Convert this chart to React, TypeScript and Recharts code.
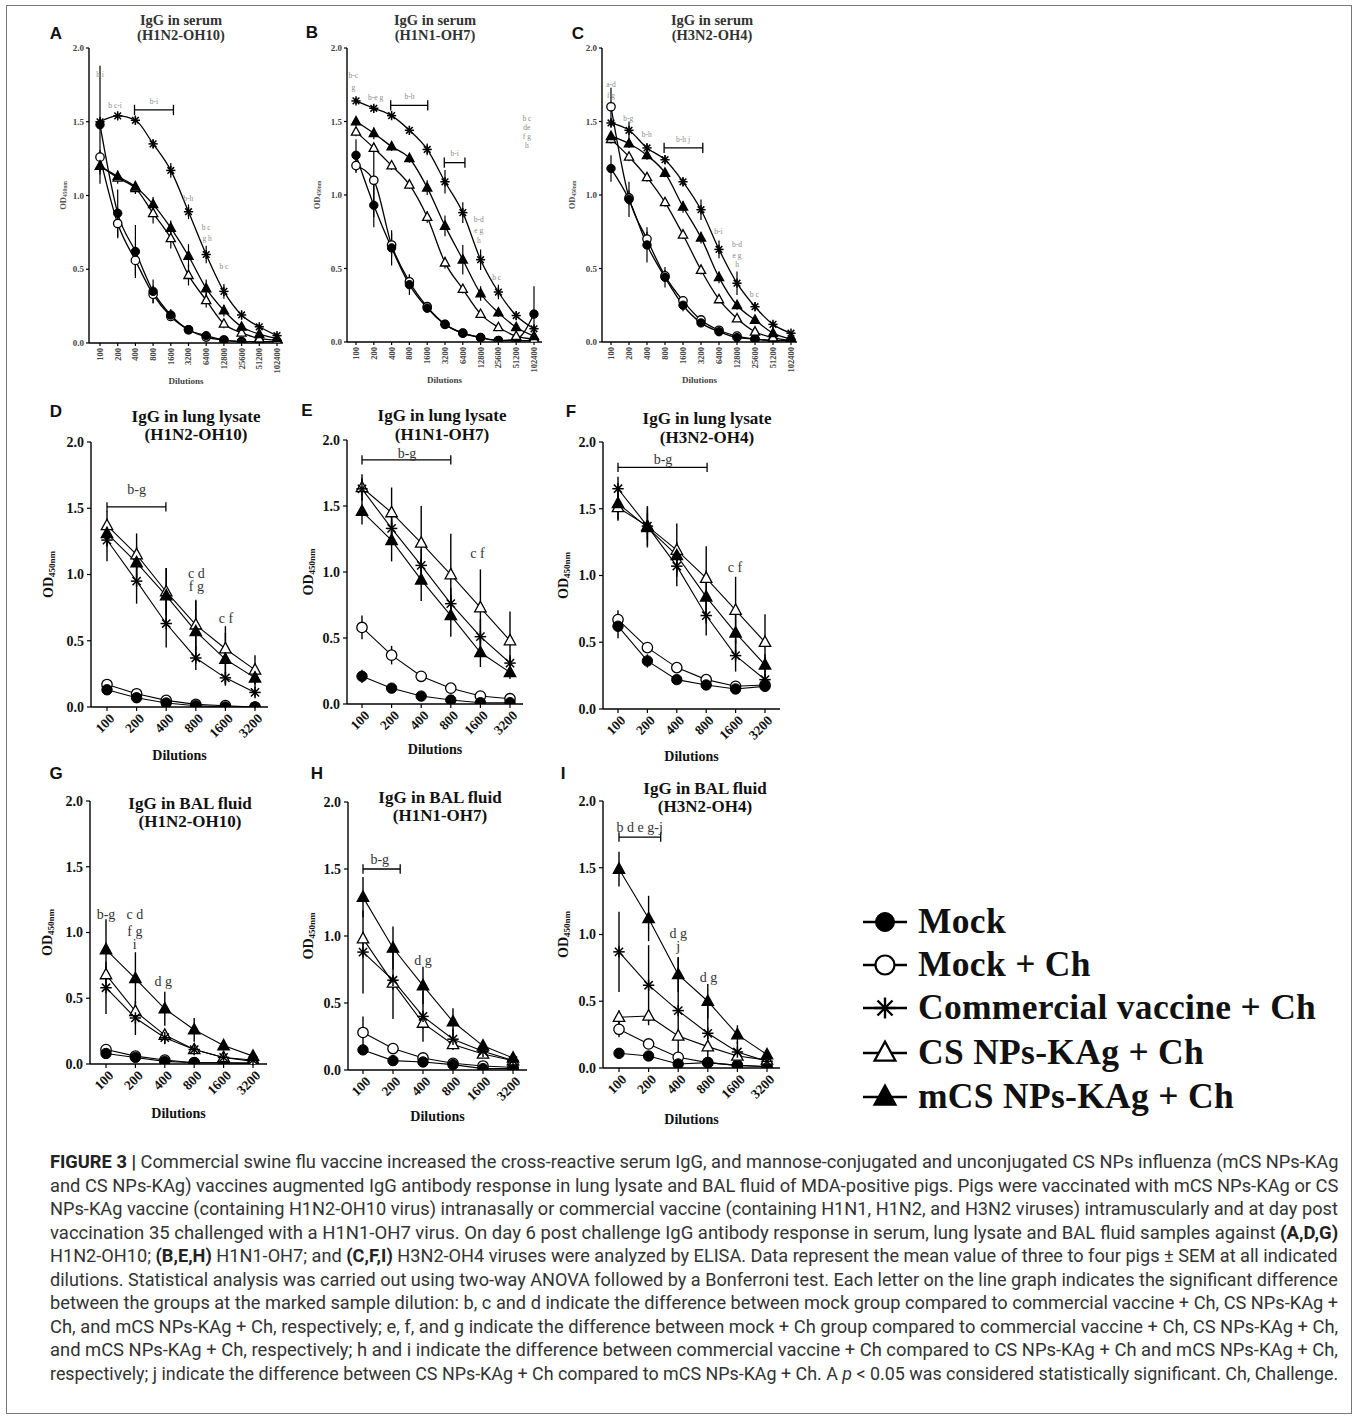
import React from 'react';
import { LineChart, Line, XAxis, YAxis, ErrorBar, ReferenceLine, ReferenceDot } from 'recharts';

const SERIF = '"Liberation Serif","Times New Roman","DejaVu Serif",serif';
const SANS = '"Liberation Sans",Arial,Helvetica,sans-serif';
const CAPFONT = 'Roboto,"Liberation Sans",Arial,sans-serif';

// ---------- categories ----------
const serumDilutions = ['100', '200', '400', '800', '1600', '3200', '6400', '12800', '25600', '51200', '102400'];
const tissueDilutions = ['100', '200', '400', '800', '1600', '3200'];
const groupNames = ['Mock', 'Mock + Ch', 'Commercial vaccine + Ch', 'CS NPs-KAg + Ch', 'mCS NPs-KAg + Ch'];
const yTicks = [0, 0.5, 1, 1.5, 2];

// ---------- A: IgG in serum (H1N2-OH10) ----------
const A_mock = [1.48, 0.88, 0.62, 0.35, 0.19, 0.09, 0.05, 0.02, 0.01, 0.01, 0.01];
const A_mockErr = [0.40, 0.16, 0.18, 0.08, 0.04, 0.02, 0.01, 0.01, 0.01, 0.01, 0.01];
const A_mockCh = [1.26, 0.81, 0.56, 0.33, 0.18, 0.09, 0.04, 0.02, 0.01, 0.01, 0.01];
const A_mockChErr = [0.05, 0.10, 0.10, 0.06, 0.03, 0.02, 0.01, 0.01, 0.01, 0.01, 0.01];
const A_comm = [1.50, 1.54, 1.51, 1.35, 1.17, 0.89, 0.60, 0.35, 0.19, 0.11, 0.05];
const A_commErr = [0.03, 0.02, 0.03, 0.03, 0.05, 0.05, 0.06, 0.05, 0.03, 0.02, 0.01];
const A_cs = [1.20, 1.12, 1.05, 0.88, 0.71, 0.46, 0.29, 0.13, 0.07, 0.03, 0.02];
const A_csErr = [0.04, 0.04, 0.04, 0.07, 0.07, 0.07, 0.05, 0.03, 0.02, 0.01, 0.01];
const A_mcs = [1.20, 1.13, 1.06, 0.94, 0.78, 0.59, 0.37, 0.22, 0.11, 0.06, 0.03];
const A_mcsErr = [0.06, 0.04, 0.04, 0.05, 0.05, 0.08, 0.06, 0.04, 0.02, 0.01, 0.01];
const A_notes = [
  { x: 0, y: 1.82, t: 'h i' }, { x: 0.85, y: 1.61, t: 'b c-i' }, { x: 3.05, y: 1.64, t: 'b-i' },
  { x: 4.98, y: 0.98, t: 'b-h' }, { x: 6.0, y: 0.78, t: 'b c' }, { x: 6.05, y: 0.71, t: 'g h' }, { x: 7.0, y: 0.52, t: 'b c' },
];
const A_brackets = [{ x1: 1.95, x2: 4.15, y: 1.58 }];

// ---------- B: IgG in serum (H1N1-OH7) ----------
const B_mock = [1.27, 0.93, 0.64, 0.39, 0.23, 0.12, 0.06, 0.03, 0.01, 0.02, 0.19];
const B_mockErr = [0.11, 0.15, 0.12, 0.07, 0.03, 0.02, 0.01, 0.01, 0.01, 0.01, 0.19];
const B_mockCh = [1.20, 1.10, 0.66, 0.41, 0.24, 0.12, 0.06, 0.03, 0.01, 0.01, 0.01];
const B_mockChErr = [0.05, 0.25, 0.08, 0.05, 0.03, 0.02, 0.01, 0.01, 0.01, 0.01, 0.01];
const B_comm = [1.64, 1.59, 1.54, 1.44, 1.31, 1.09, 0.88, 0.56, 0.34, 0.18, 0.09];
const B_commErr = [0.02, 0.02, 0.02, 0.03, 0.04, 0.08, 0.07, 0.07, 0.05, 0.03, 0.02];
const B_cs = [1.43, 1.32, 1.20, 1.07, 0.85, 0.54, 0.36, 0.19, 0.10, 0.04, 0.02];
const B_csErr = [0.03, 0.03, 0.03, 0.03, 0.04, 0.04, 0.03, 0.02, 0.02, 0.01, 0.01];
const B_mcs = [1.50, 1.42, 1.33, 1.25, 1.05, 0.79, 0.56, 0.33, 0.20, 0.10, 0.04];
const B_mcsErr = [0.03, 0.04, 0.03, 0.03, 0.05, 0.07, 0.10, 0.05, 0.03, 0.02, 0.01];
const B_notes = [
  { x: -0.15, y: 1.81, t: 'b-c' }, { x: -0.15, y: 1.73, t: 'g' }, { x: 1.1, y: 1.66, t: 'b-e g' },
  { x: 3.0, y: 1.67, t: 'b-h' }, { x: 5.55, y: 1.28, t: 'b-i' },
  { x: 6.9, y: 0.83, t: 'b-d' }, { x: 6.9, y: 0.76, t: 'e g' }, { x: 6.9, y: 0.69, t: 'h' }, { x: 7.9, y: 0.44, t: 'b c' },
  { x: 9.6, y: 1.52, t: 'b c' }, { x: 9.6, y: 1.46, t: 'de' }, { x: 9.6, y: 1.40, t: 'f g' }, { x: 9.6, y: 1.34, t: 'h' },
];
const B_brackets = [{ x1: 1.95, x2: 4.03, y: 1.61 }, { x1: 4.96, x2: 6.12, y: 1.22 }];

// ---------- C: IgG in serum (H3N2-OH4) ----------
const C_mock = [1.18, 0.97, 0.66, 0.44, 0.25, 0.13, 0.07, 0.03, 0.02, 0.01, 0.01];
const C_mockErr = [0.09, 0.12, 0.12, 0.07, 0.04, 0.02, 0.01, 0.01, 0.01, 0.01, 0.01];
const C_mockCh = [1.60, 0.98, 0.70, 0.45, 0.28, 0.15, 0.08, 0.04, 0.02, 0.01, 0.01];
const C_mockChErr = [0.13, 0.05, 0.05, 0.04, 0.03, 0.02, 0.01, 0.01, 0.01, 0.01, 0.01];
const C_comm = [1.49, 1.44, 1.32, 1.24, 1.09, 0.90, 0.63, 0.40, 0.24, 0.12, 0.06];
const C_commErr = [0.03, 0.06, 0.03, 0.03, 0.03, 0.07, 0.06, 0.08, 0.03, 0.02, 0.01];
const C_cs = [1.38, 1.26, 1.12, 0.95, 0.73, 0.49, 0.29, 0.16, 0.07, 0.03, 0.01];
const C_csErr = [0.03, 0.03, 0.03, 0.03, 0.03, 0.03, 0.02, 0.02, 0.01, 0.01, 0.01];
const C_mcs = [1.40, 1.35, 1.27, 1.15, 0.92, 0.71, 0.44, 0.25, 0.15, 0.06, 0.02];
const C_mcsErr = [0.03, 0.03, 0.03, 0.03, 0.04, 0.04, 0.04, 0.03, 0.02, 0.01, 0.01];
const C_notes = [
  { x: 0, y: 1.75, t: 'a-d' }, { x: 0, y: 1.68, t: 'f g' }, { x: 0.96, y: 1.52, t: 'b-g' }, { x: 1.99, y: 1.41, t: 'b-h' },
  { x: 4.0, y: 1.38, t: 'b-h j' }, { x: 5.97, y: 0.75, t: 'b-i' },
  { x: 7.0, y: 0.66, t: 'b-d' }, { x: 7.0, y: 0.59, t: 'e g' }, { x: 7.0, y: 0.53, t: 'h' }, { x: 7.96, y: 0.32, t: 'b c' },
];
const C_brackets = [{ x1: 2.95, x2: 5.1, y: 1.32 }];

// ---------- D: IgG in lung lysate (H1N2-OH10) ----------
const D_mock = [0.13, 0.07, 0.03, 0.01, 0.00, 0.00];
const D_mockErr = [0.02, 0.02, 0.01, 0.01, 0.01, 0.01];
const D_mockCh = [0.17, 0.10, 0.05, 0.02, 0.01, 0.00];
const D_mockChErr = [0.03, 0.02, 0.02, 0.01, 0.01, 0.01];
const D_comm = [1.26, 0.95, 0.63, 0.37, 0.22, 0.11];
const D_commErr = [0.16, 0.17, 0.18, 0.09, 0.05, 0.03];
const D_cs = [1.37, 1.15, 0.87, 0.62, 0.44, 0.28];
const D_csErr = [0.11, 0.16, 0.18, 0.19, 0.17, 0.11];
const D_mcs = [1.31, 1.09, 0.84, 0.57, 0.36, 0.22];
const D_mcsErr = [0.10, 0.12, 0.21, 0.23, 0.20, 0.08];
const D_notes = [
  { x: 1.0, y: 1.64, t: 'b-g' }, { x: 3.02, y: 1.01, t: 'c d' }, { x: 3.02, y: 0.91, t: 'f g' }, { x: 4.02, y: 0.67, t: 'c f' },
];
const D_brackets = [{ x1: 0, x2: 1.99, y: 1.51 }];

// ---------- E: IgG in lung lysate (H1N1-OH7) ----------
const E_mock = [0.21, 0.12, 0.06, 0.03, 0.01, 0.01];
const E_mockErr = [0.05, 0.02, 0.01, 0.01, 0.01, 0.01];
const E_mockCh = [0.58, 0.37, 0.21, 0.12, 0.06, 0.04];
const E_mockChErr = [0.09, 0.07, 0.02, 0.02, 0.01, 0.01];
const E_comm = [1.63, 1.33, 1.05, 0.76, 0.51, 0.31];
const E_commErr = [0.08, 0.10, 0.12, 0.12, 0.13, 0.06];
const E_cs = [1.64, 1.45, 1.22, 0.98, 0.73, 0.48];
const E_csErr = [0.10, 0.19, 0.28, 0.31, 0.29, 0.22];
const E_mcs = [1.46, 1.24, 0.94, 0.67, 0.39, 0.24];
const E_mcsErr = [0.10, 0.16, 0.16, 0.16, 0.11, 0.05];
const E_notes = [{ x: 1.52, y: 1.90, t: 'b-g' }, { x: 3.9, y: 1.14, t: 'c f' }];
const E_brackets = [{ x1: 0, x2: 3.0, y: 1.85 }];

// ---------- F: IgG in lung lysate (H3N2-OH4) ----------
const F_mock = [0.62, 0.36, 0.22, 0.18, 0.15, 0.17];
const F_mockErr = [0.09, 0.05, 0.03, 0.02, 0.02, 0.02];
const F_mockCh = [0.67, 0.46, 0.31, 0.22, 0.17, 0.18];
const F_mockChErr = [0.07, 0.03, 0.03, 0.02, 0.02, 0.02];
const F_comm = [1.65, 1.37, 1.07, 0.70, 0.40, 0.22];
const F_commErr = [0.09, 0.15, 0.15, 0.15, 0.12, 0.07];
const F_cs = [1.51, 1.37, 1.19, 0.98, 0.74, 0.50];
const F_csErr = [0.10, 0.10, 0.20, 0.24, 0.25, 0.21];
const F_mcs = [1.54, 1.36, 1.15, 0.84, 0.57, 0.33];
const F_mcsErr = [0.12, 0.15, 0.10, 0.20, 0.20, 0.08];
const F_notes = [{ x: 1.53, y: 1.87, t: 'b-g' }, { x: 3.98, y: 1.06, t: 'c f' }];
const F_brackets = [{ x1: 0, x2: 3.03, y: 1.81 }];

// ---------- G: IgG in BAL fluid (H1N2-OH10) ----------
const G_mock = [0.08, 0.05, 0.02, 0.01, 0.01, 0.01];
const G_mockErr = [0.02, 0.01, 0.01, 0.01, 0.01, 0.01];
const G_mockCh = [0.11, 0.06, 0.03, 0.01, 0.01, 0.00];
const G_mockChErr = [0.02, 0.01, 0.01, 0.01, 0.01, 0.01];
const G_comm = [0.58, 0.35, 0.20, 0.11, 0.05, 0.03];
const G_commErr = [0.20, 0.13, 0.05, 0.03, 0.02, 0.01];
const G_cs = [0.68, 0.40, 0.22, 0.11, 0.05, 0.02];
const G_csErr = [0.06, 0.05, 0.04, 0.03, 0.02, 0.01];
const G_mcs = [0.87, 0.65, 0.42, 0.26, 0.14, 0.06];
const G_mcsErr = [0.23, 0.20, 0.13, 0.09, 0.03, 0.02];
const G_notes = [
  { x: 0, y: 1.14, t: 'b-g' }, { x: 0.98, y: 1.14, t: 'c d' }, { x: 0.98, y: 1.01, t: 'f g' }, { x: 0.98, y: 0.91, t: 'i' },
  { x: 1.95, y: 0.63, t: 'd g' },
];
const G_brackets: { x1: number; x2: number; y: number }[] = [];

// ---------- H: IgG in BAL fluid (H1N1-OH7) ----------
const H_mock = [0.15, 0.07, 0.06, 0.04, 0.01, 0.01];
const H_mockErr = [0.03, 0.02, 0.01, 0.01, 0.01, 0.01];
const H_mockCh = [0.28, 0.16, 0.09, 0.05, 0.03, 0.02];
const H_mockChErr = [0.12, 0.04, 0.02, 0.01, 0.01, 0.01];
const H_comm = [0.88, 0.67, 0.40, 0.23, 0.14, 0.07];
const H_commErr = [0.31, 0.29, 0.19, 0.08, 0.04, 0.02];
const H_cs = [0.98, 0.65, 0.35, 0.19, 0.12, 0.07];
const H_csErr = [0.05, 0.05, 0.04, 0.03, 0.02, 0.01];
const H_mcs = [1.29, 0.91, 0.63, 0.36, 0.18, 0.09];
const H_mcsErr = [0.15, 0.16, 0.14, 0.10, 0.04, 0.02];
const H_notes = [{ x: 0.56, y: 1.57, t: 'b-g' }, { x: 2.0, y: 0.82, t: 'd g' }];
const H_brackets = [{ x1: 0, x2: 1.24, y: 1.50 }];

// ---------- I: IgG in BAL fluid (H3N2-OH4) ----------
const I_mock = [0.11, 0.09, 0.03, 0.04, 0.02, 0.01];
const I_mockErr = [0.02, 0.02, 0.01, 0.01, 0.01, 0.01];
const I_mockCh = [0.29, 0.18, 0.08, 0.04, 0.02, 0.01];
const I_mockChErr = [0.06, 0.03, 0.02, 0.01, 0.01, 0.01];
const I_comm = [0.87, 0.62, 0.43, 0.26, 0.12, 0.05];
const I_commErr = [0.30, 0.30, 0.40, 0.20, 0.08, 0.02];
const I_cs = [0.38, 0.39, 0.24, 0.16, 0.09, 0.06];
const I_csErr = [0.05, 0.04, 0.03, 0.02, 0.02, 0.01];
const I_mcs = [1.49, 1.12, 0.70, 0.50, 0.25, 0.10];
const I_mcsErr = [0.13, 0.17, 0.13, 0.13, 0.07, 0.02];
const I_notes = [
  { x: 0.7, y: 1.80, t: 'b d e g-j' }, { x: 2.0, y: 1.01, t: 'd g' }, { x: 2.0, y: 0.91, t: 'j' }, { x: 3.02, y: 0.68, t: 'd g' },
];
const I_brackets = [{ x1: 0, x2: 1.41, y: 1.73 }];

// ---------- caption ----------
type Seg = [string, 'n' | 'b' | 'i'];
const captionLines: Seg[][] = [
  [['FIGURE 3 | ', 'b'], ['Commercial swine flu vaccine increased the cross-reactive serum IgG, and mannose-conjugated and unconjugated CS NPs influenza (mCS NPs-KAg', 'n']],
  [['and CS NPs-KAg) vaccines augmented IgG antibody response in lung lysate and BAL fluid of MDA-positive pigs. Pigs were vaccinated with mCS NPs-KAg or CS', 'n']],
  [['NPs-KAg vaccine (containing H1N2-OH10 virus) intranasally or commercial vaccine (containing H1N1, H1N2, and H3N2 viruses) intramuscularly and at day post', 'n']],
  [['vaccination 35 challenged with a H1N1-OH7 virus. On day 6 post challenge IgG antibody response in serum, lung lysate and BAL fluid samples against ', 'n'], ['(A,D,G)', 'b']],
  [['H1N2-OH10; ', 'n'], ['(B,E,H)', 'b'], [' H1N1-OH7; and ', 'n'], ['(C,F,I)', 'b'], [' H3N2-OH4 viruses were analyzed by ELISA. Data represent the mean value of three to four pigs \u00b1 SEM at all indicated', 'n']],
  [['dilutions. Statistical analysis was carried out using two-way ANOVA followed by a Bonferroni test. Each letter on the line graph indicates the significant difference', 'n']],
  [['between the groups at the marked sample dilution: b, c and d indicate the difference between mock group compared to commercial vaccine + Ch, CS NPs-KAg +', 'n']],
  [['Ch, and mCS NPs-KAg + Ch, respectively; e, f, and g indicate the difference between mock + Ch group compared to commercial vaccine + Ch, CS NPs-KAg + Ch,', 'n']],
  [['and mCS NPs-KAg + Ch, respectively; h and i indicate the difference between commercial vaccine + Ch compared to CS NPs-KAg + Ch and mCS NPs-KAg + Ch,', 'n']],
  [['respectively; j indicate the difference between CS NPs-KAg + Ch compared to mCS NPs-KAg + Ch. A ', 'n'], ['p', 'i'], [' < 0.05 was considered statistically significant. Ch, Challenge.', 'n']],
];

// ---------- markers ----------
type Kind = 'filledCircle' | 'openCircle' | 'star' | 'openTri' | 'filledTri';
const groupKinds: Kind[] = ['filledCircle', 'openCircle', 'star', 'openTri', 'filledTri'];

function marker(kind: Kind, cx: number, cy: number, r: number, key: string, sw = 1.3) {
  if (cx == null || cy == null || isNaN(cx) || isNaN(cy)) return <g key={key} />;
  switch (kind) {
    case 'filledCircle':
      return <circle key={key} cx={cx} cy={cy} r={r} fill="#000" stroke="#000" strokeWidth={1} />;
    case 'openCircle':
      return <circle key={key} cx={cx} cy={cy} r={r} fill="#fff" stroke="#000" strokeWidth={sw} />;
    case 'openTri':
    case 'filledTri': {
      const pts = `${cx},${cy - r * 1.2} ${cx - r * 1.1},${cy + r * 0.8} ${cx + r * 1.1},${cy + r * 0.8}`;
      return <polygon key={key} points={pts} fill={kind === 'openTri' ? '#fff' : '#000'} stroke="#000" strokeWidth={sw} strokeLinejoin="miter" />;
    }
    case 'star': {
      const s = r * 1.1;
      const d = s * 0.72;
      return (
        <g key={key} stroke="#000" strokeWidth={sw + 0.2}>
          <line x1={cx} y1={cy - s} x2={cx} y2={cy + s} />
          <line x1={cx - s} y1={cy} x2={cx + s} y2={cy} />
          <line x1={cx - d} y1={cy - d} x2={cx + d} y2={cy + d} />
          <line x1={cx - d} y1={cy + d} x2={cx + d} y2={cy - d} />
        </g>
      );
    }
  }
  return <g key={key} />;
}

// ---------- panel definitions ----------
type Note = { x: number; y: number; t: string };
type Bracket = { x1: number; x2: number; y: number };
type PanelDef = {
  letter: string;
  title: [string, string];
  labels: string[];
  vals: number[][];
  errs: number[][];
  notes: Note[];
  brackets: Bracket[];
  box: { x0: number; x1: number; yTop: number; yBot: number; c0: number; cN: number };
  letterXY: [number, number];
  titleX: number;
  titleY: [number, number];
  yLabelOff: number;
  xLabelOff: number;
  small: boolean;
};

const panels: PanelDef[] = [
  {
    letter: 'A', title: ['IgG in serum', '(H1N2-OH10)'], labels: serumDilutions,
    vals: [A_mock, A_mockCh, A_comm, A_cs, A_mcs], errs: [A_mockErr, A_mockChErr, A_commErr, A_csErr, A_mcsErr],
    notes: A_notes, brackets: A_brackets,
    box: { x0: 89, x1: 283, yTop: 48, yBot: 343, c0: 100, cN: 277 },
    letterXY: [56, 33], titleX: 181, titleY: [20, 35], yLabelOff: 26, xLabelOff: 38, small: true,
  },
  {
    letter: 'B', title: ['IgG in serum', '(H1N1-OH7)'], labels: serumDilutions,
    vals: [B_mock, B_mockCh, B_comm, B_cs, B_mcs], errs: [B_mockErr, B_mockChErr, B_commErr, B_csErr, B_mcsErr],
    notes: B_notes, brackets: B_brackets,
    box: { x0: 347, x1: 542, yTop: 48, yBot: 342, c0: 356, cN: 534 },
    letterXY: [312, 32], titleX: 435, titleY: [20, 35], yLabelOff: 30, xLabelOff: 38, small: true,
  },
  {
    letter: 'C', title: ['IgG in serum', '(H3N2-OH4)'], labels: serumDilutions,
    vals: [C_mock, C_mockCh, C_comm, C_cs, C_mcs], errs: [C_mockErr, C_mockChErr, C_commErr, C_csErr, C_mcsErr],
    notes: C_notes, brackets: C_brackets,
    box: { x0: 602, x1: 797, yTop: 48, yBot: 342, c0: 611, cN: 791 },
    letterXY: [578, 33], titleX: 712, titleY: [20, 35], yLabelOff: 30, xLabelOff: 38, small: true,
  },
  {
    letter: 'D', title: ['IgG in lung lysate', '(H1N2-OH10)'], labels: tissueDilutions,
    vals: [D_mock, D_mockCh, D_comm, D_cs, D_mcs], errs: [D_mockErr, D_mockChErr, D_commErr, D_csErr, D_mcsErr],
    notes: D_notes, brackets: D_brackets,
    box: { x0: 91, x1: 268, yTop: 442, yBot: 707, c0: 107, cN: 255 },
    letterXY: [56, 411], titleX: 196, titleY: [416, 434], yLabelOff: 43, xLabelOff: 48, small: false,
  },
  {
    letter: 'E', title: ['IgG in lung lysate', '(H1N1-OH7)'], labels: tissueDilutions,
    vals: [E_mock, E_mockCh, E_comm, E_cs, E_mcs], errs: [E_mockErr, E_mockChErr, E_commErr, E_csErr, E_mcsErr],
    notes: E_notes, brackets: E_brackets,
    box: { x0: 347, x1: 523, yTop: 440, yBot: 704, c0: 362, cN: 510 },
    letterXY: [307, 410], titleX: 442, titleY: [415, 434], yLabelOff: 39, xLabelOff: 45, small: false,
  },
  {
    letter: 'F', title: ['IgG in lung lysate', '(H3N2-OH4)'], labels: tissueDilutions,
    vals: [F_mock, F_mockCh, F_comm, F_cs, F_mcs], errs: [F_mockErr, F_mockChErr, F_commErr, F_csErr, F_mcsErr],
    notes: F_notes, brackets: F_brackets,
    box: { x0: 603, x1: 780, yTop: 442, yBot: 709, c0: 618, cN: 765 },
    letterXY: [571, 411], titleX: 707, titleY: [418, 437], yLabelOff: 40, xLabelOff: 47, small: false,
  },
  {
    letter: 'G', title: ['IgG in BAL fluid', '(H1N2-OH10)'], labels: tissueDilutions,
    vals: [G_mock, G_mockCh, G_comm, G_cs, G_mcs], errs: [G_mockErr, G_mockChErr, G_commErr, G_csErr, G_mcsErr],
    notes: G_notes, brackets: G_brackets,
    box: { x0: 90, x1: 267, yTop: 801, yBot: 1064, c0: 106, cN: 253 },
    letterXY: [56, 773], titleX: 190, titleY: [803, 821], yLabelOff: 43, xLabelOff: 49, small: false,
  },
  {
    letter: 'H', title: ['IgG in BAL fluid', '(H1N1-OH7)'], labels: tissueDilutions,
    vals: [H_mock, H_mockCh, H_comm, H_cs, H_mcs], errs: [H_mockErr, H_mockChErr, H_commErr, H_csErr, H_mcsErr],
    notes: H_notes, brackets: H_brackets,
    box: { x0: 348, x1: 527, yTop: 802, yBot: 1070, c0: 363, cN: 513 },
    letterXY: [317, 773], titleX: 440, titleY: [797, 815], yLabelOff: 40, xLabelOff: 46, small: false,
  },
  {
    letter: 'I', title: ['IgG in BAL fluid', '(H3N2-OH4)'], labels: tissueDilutions,
    vals: [I_mock, I_mockCh, I_comm, I_cs, I_mcs], errs: [I_mockErr, I_mockChErr, I_commErr, I_csErr, I_mcsErr],
    notes: I_notes, brackets: I_brackets,
    box: { x0: 603, x1: 780, yTop: 801, yBot: 1068, c0: 619, cN: 767 },
    letterXY: [563, 773], titleX: 705, titleY: [788, 806], yLabelOff: 40, xLabelOff: 51, small: false,
  },
];

const seriesKeys = ['mock', 'mockCh', 'comm', 'cs', 'mcs'];
const drawOrder = [1, 0, 3, 2, 4];

function Panel({ p }: { p: PanelDef }) {
  const n = p.labels.length - 1;
  const { x0, x1, yTop, yBot, c0, cN } = p.box;
  const k = (cN - c0) / n;
  const dMin = -(c0 - x0) / k;
  const dMax = n + (x1 - cN) / k;
  const plotW = x1 - x0;
  const plotH = yBot - yTop;
  const ML = 62, MT = 14, MR = 14, MB = 72;
  const yAxisW = 50, xAxisH = 62;
  const sm = p.small;
  const data = p.labels.map((lab, i) => {
    const row: any = { i, lab };
    seriesKeys.forEach((key, s) => {
      row[key] = p.vals[s][i];
      row[key + 'Err'] = p.errs[s][i];
    });
    return row;
  });
  const tickIdx = p.labels.map((_, i) => i);
  const r = sm ? 4.2 : 5.2;
  const lineW = sm ? 1.3 : 1.1;
  const noteFont = sm ? 7.5 : 14;
  const noteFill = sm ? '#8a8a8a' : '#333';
  const axisFont = sm ? 9 : 14;
  const axisFill = sm ? '#444' : '#111';

  const xTick = (props: any) => {
    const { x, y, payload } = props;
    const lab = p.labels[payload.value] ?? '';
    if (sm) {
      return (
        <text x={x} y={y} transform={`rotate(-90 ${x} ${y})`} textAnchor="end" dy="0.35em"
          fontFamily={SERIF} fontWeight={700} fontSize={8.5} fill={axisFill}>{lab}</text>
      );
    }
    const ax = x + 5, ay = y + 3;
    return (
      <text x={ax} y={ay} transform={`rotate(-45 ${ax} ${ay})`} textAnchor="end" dy="0.35em"
        fontFamily={SERIF} fontWeight={700} fontSize={13.5} fill={axisFill}>{lab}</text>
    );
  };

  const yLabel = () => (
    <text transform={`translate(${ML - p.yLabelOff}, ${MT + plotH / 2}) rotate(-90)`} textAnchor="middle"
      dominantBaseline="central" fontFamily={SERIF} fontWeight={700} fontSize={sm ? 8.5 : 14} fill={sm ? '#555' : '#111'}>
      OD<tspan fontSize={sm ? 5.5 : 9} dy={sm ? 2 : 4}>450nm</tspan>
    </text>
  );
  const xLabel = () => (
    <text x={ML + plotW / 2} y={MT + plotH + p.xLabelOff} textAnchor="middle" dominantBaseline="central"
      fontFamily={SERIF} fontWeight={700} fontSize={sm ? 9 : 14} fill={sm ? '#444' : '#111'}>Dilutions</text>
  );

  return (
    <>
      <div style={{ position: 'absolute', left: x0 - ML, top: yTop - MT }}>
        <LineChart width={ML + plotW + MR} height={MT + plotH + MB} data={data}
          margin={{ left: ML - yAxisW, top: MT, right: MR, bottom: MB - xAxisH }}>
          <XAxis type="number" dataKey="i" domain={[dMin, dMax]} ticks={tickIdx} interval={0} allowDataOverflow
            height={xAxisH} tick={xTick} tickSize={sm ? 3 : 4} tickMargin={2}
            axisLine={{ stroke: '#000', strokeWidth: 1.4 }} tickLine={{ stroke: '#000', strokeWidth: 1.2 }}
            label={xLabel} />
          <YAxis type="number" domain={[0, 2]} ticks={yTicks} interval={0} allowDataOverflow width={yAxisW}
            tickFormatter={(v: number) => v.toFixed(1)} tickSize={sm ? 3 : 4} tickMargin={sm ? 2 : 3}
            tick={{ fontFamily: SERIF, fontWeight: 700, fontSize: axisFont, fill: axisFill }}
            axisLine={{ stroke: '#000', strokeWidth: 1.4 }} tickLine={{ stroke: '#000', strokeWidth: 1.2 }}
            label={yLabel} />
          {drawOrder.map((s) => {
            const key = seriesKeys[s];
            const kind = groupKinds[s];
            return (
              <Line key={key} dataKey={key} name={groupNames[s]} type={sm ? 'monotone' : 'linear'}
                stroke="#000" strokeWidth={lineW} isAnimationActive={false}
                dot={(dp: any) => marker(kind, dp.cx, dp.cy, r, `${key}-${dp.index}`)}
                activeDot={false}>
                <ErrorBar dataKey={key + 'Err'} width={0} stroke="#000" strokeWidth={sm ? 1.2 : 1.4} direction="y" />
              </Line>
            );
          })}
          {p.brackets.map((b, j) => (
            <ReferenceLine key={'bh' + j} segment={[{ x: b.x1, y: b.y }, { x: b.x2, y: b.y }]} stroke="#000" strokeWidth={1.3} ifOverflow="visible" />
          ))}
          {p.brackets.map((b, j) => (
            <ReferenceLine key={'bl' + j} segment={[{ x: b.x1, y: b.y - 0.035 }, { x: b.x1, y: b.y + 0.035 }]} stroke="#000" strokeWidth={1.3} ifOverflow="visible" />
          ))}
          {p.brackets.map((b, j) => (
            <ReferenceLine key={'br' + j} segment={[{ x: b.x2, y: b.y - 0.035 }, { x: b.x2, y: b.y + 0.035 }]} stroke="#000" strokeWidth={1.3} ifOverflow="visible" />
          ))}
          {p.notes.map((nt, j) => (
            <ReferenceDot key={'n' + j} x={nt.x} y={nt.y} r={1} fill="none" stroke="none" ifOverflow="visible"
              shape={(sp: any) => (
                <text x={sp.cx} y={sp.cy} textAnchor="middle" dominantBaseline="central" fontFamily={SERIF}
                  fontSize={noteFont} fill={noteFill}>{nt.t}</text>
              )} />
          ))}
        </LineChart>
      </div>
      <div style={{ position: 'absolute', left: p.letterXY[0], top: p.letterXY[1], transform: 'translate(-50%,-50%)', fontFamily: SANS, fontWeight: 700, fontSize: 17, lineHeight: 1, color: '#111' }}>{p.letter}</div>
      {p.title.map((t, j) => (
        <div key={j} style={{ position: 'absolute', left: p.titleX, top: p.titleY[j], transform: 'translate(-50%,-50%)', whiteSpace: 'nowrap', fontFamily: SERIF, fontWeight: 700, fontSize: sm ? 14.5 : 17, color: sm ? '#333' : '#111', lineHeight: 1 }}>{t}</div>
      ))}
    </>
  );
}

function Legend() {
  const ys = [922, 965, 1008, 1053, 1097];
  return (
    <>
      {groupNames.map((g, s) => (
        <React.Fragment key={g}>
          <svg style={{ position: 'absolute', left: 861, top: ys[s] - 16 }} width={48} height={32}>
            <line x1={2} y1={16} x2={46} y2={16} stroke="#000" strokeWidth={2.4} />
            {marker(groupKinds[s], 24, 16, 9.5, 'lg' + s, 2.2)}
          </svg>
          <div style={{ position: 'absolute', left: 918, top: ys[s], transform: 'translateY(-50%)', whiteSpace: 'nowrap', fontFamily: SERIF, fontWeight: 700, fontSize: 35.5, letterSpacing: 0.3, lineHeight: 1, color: '#111' }}>{g}</div>
        </React.Fragment>
      ))}
    </>
  );
}

function FitLine({ segs, top }: { segs: Seg[]; top: number }) {
  const ref = React.useRef<HTMLSpanElement>(null);
  const [sx, setSx] = React.useState(1);
  React.useLayoutEffect(() => {
    if (ref.current) {
      const w = ref.current.offsetWidth;
      if (w > 0) setSx(1288 / w);
    }
  }, []);
  return (
    <div style={{ position: 'absolute', left: 50, top, whiteSpace: 'nowrap', transformOrigin: '0 0', transform: `scaleX(${sx})`, lineHeight: '20px' }}>
      <span ref={ref} style={{ fontFamily: CAPFONT, fontSize: 18, color: '#333' }}>
        {segs.map((sg, j) => (
          <span key={j} style={{ fontWeight: sg[1] === 'b' ? 700 : 400, fontStyle: sg[1] === 'i' ? 'italic' : 'normal', color: sg[1] === 'b' ? '#222' : '#333' }}>{sg[0]}</span>
        ))}
      </span>
    </div>
  );
}

function Caption() {
  return (
    <>
      {captionLines.map((segs, li) => (
        <FitLine key={li} segs={segs} top={1152 + li * 23.5} />
      ))}
    </>
  );
}

export default function App() {
  return (
    <div style={{ position: 'absolute', left: 0, top: 0, width: 1357, height: 1419, background: '#fff', overflow: 'hidden' }}>
      <div style={{ position: 'absolute', left: 6, top: 5, width: 1344, height: 1407, border: '1px solid #777' }} />
      {panels.map((p) => <Panel key={p.letter} p={p} />)}
      <Legend />
      <Caption />
    </div>
  );
}
